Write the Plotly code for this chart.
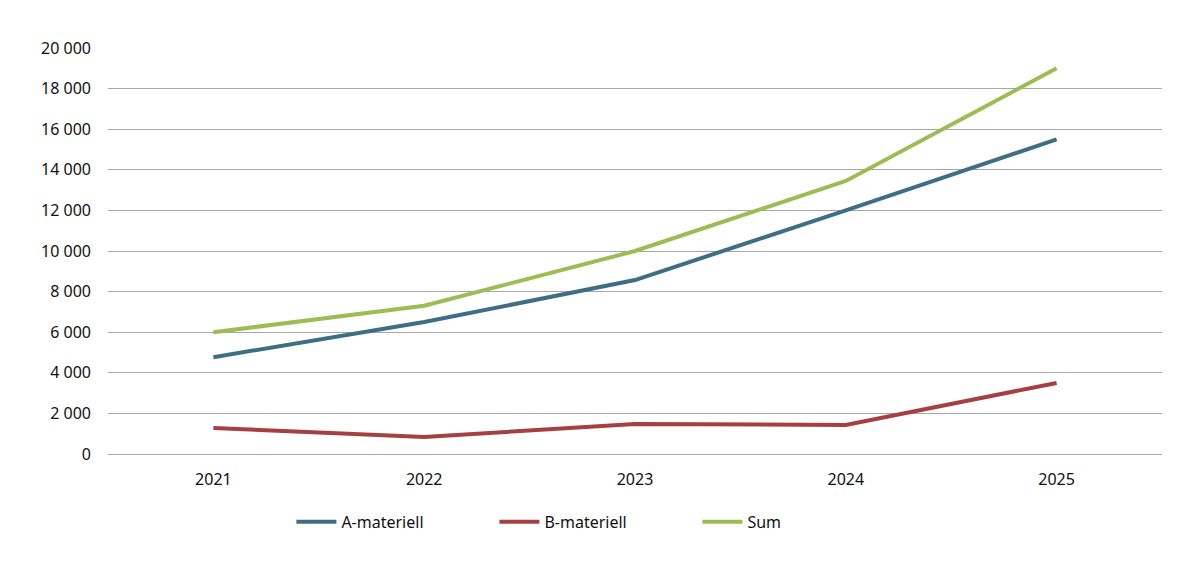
import plotly.graph_objects as go

years = ["2021", "2022", "2023", "2024", "2025"]
a_materiell = [4770, 6500, 8570, 12000, 15500]
b_materiell = [1280, 840, 1480, 1430, 3500]
sum_values = [6000, 7300, 10000, 13450, 19000]
y_ticks = [0, 2000, 4000, 6000, 8000, 10000, 12000, 14000, 16000, 18000, 20000]

series = [
    ("A-materiell", a_materiell, "#3d6e83"),
    ("B-materiell", b_materiell, "#a53f41"),
    ("Sum", sum_values, "#9bbd53"),
]

fig = go.Figure()
for name, vals, color in series:
    fig.add_trace(go.Scatter(x=years, y=vals, name=name, mode="lines",
                             line=dict(color=color, width=4)))

fig.update_layout(
    width=1198, height=568,
    margin=dict(l=108, r=36, t=48, b=114),
    paper_bgcolor="white", plot_bgcolor="white",
    separators=", ",
    font=dict(family="Noto Sans, Open Sans, sans-serif", size=16, color="#111111"),
    showlegend=True,
    legend=dict(orientation="h", x=0.174, xanchor="left", y=-0.125, yanchor="top",
                entrywidth=148, entrywidthmode="pixels", font=dict(size=16),
                itemwidth=40),
    xaxis=dict(type="category", range=[-0.5, 4.5], showgrid=False, showline=False,
               ticks="", ticklabelstandoff=14),
    yaxis=dict(range=[0, 20000], tickvals=y_ticks, tickformat=",d", showgrid=True,
               gridcolor="#a6a6a6", gridwidth=1, zeroline=True, zerolinecolor="#a6a6a6",
               zerolinewidth=1, showline=False, ticks="", ticklabelstandoff=16),
)

fig.write_html("out.html")
